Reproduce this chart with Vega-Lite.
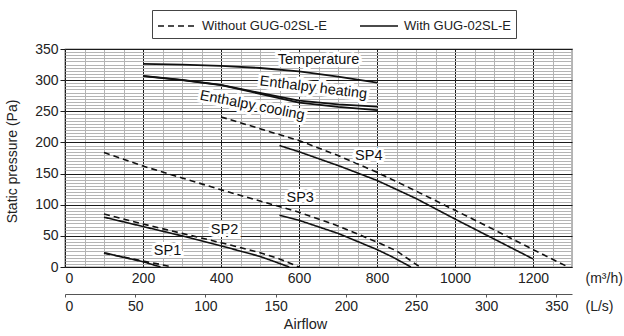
{
  "$schema": "https://vega.github.io/schema/vega-lite/v6.json",
  "width": 507,
  "height": 218,
  "autosize": {"type": "none"},
  "padding": {"left": 65, "top": 49, "right": 52, "bottom": 69},
  "background": "white",
  "config": {
    "font": "Liberation Sans",
    "view": {"stroke": "#1a1a1a", "strokeWidth": 1.2},
    "axis": {"labelFont": "Liberation Sans", "labelFontSize": 14, "labelColor": "#222", "titleFont": "Liberation Sans", "titleFontSize": 14, "titleFontWeight": "normal", "titleColor": "#222"}
  },
  "datasets": {
    "sp": [
      {"curve": "SP1", "type": "Without GUG-02SL-E", "q": 100, "pa": 22},
      {"curve": "SP1", "type": "Without GUG-02SL-E", "q": 150, "pa": 16},
      {"curve": "SP1", "type": "Without GUG-02SL-E", "q": 200, "pa": 9.5},
      {"curve": "SP1", "type": "Without GUG-02SL-E", "q": 250, "pa": 3.5},
      {"curve": "SP1", "type": "Without GUG-02SL-E", "q": 274, "pa": 0},
      {"curve": "SP1", "type": "With GUG-02SL-E", "q": 100, "pa": 23},
      {"curve": "SP1", "type": "With GUG-02SL-E", "q": 150, "pa": 15.5},
      {"curve": "SP1", "type": "With GUG-02SL-E", "q": 200, "pa": 8.5},
      {"curve": "SP1", "type": "With GUG-02SL-E", "q": 245, "pa": 0},
      {"curve": "SP2", "type": "Without GUG-02SL-E", "q": 100, "pa": 85},
      {"curve": "SP2", "type": "Without GUG-02SL-E", "q": 200, "pa": 69},
      {"curve": "SP2", "type": "Without GUG-02SL-E", "q": 300, "pa": 54},
      {"curve": "SP2", "type": "Without GUG-02SL-E", "q": 400, "pa": 39},
      {"curve": "SP2", "type": "Without GUG-02SL-E", "q": 500, "pa": 23},
      {"curve": "SP2", "type": "Without GUG-02SL-E", "q": 550, "pa": 13},
      {"curve": "SP2", "type": "Without GUG-02SL-E", "q": 600, "pa": 0},
      {"curve": "SP2", "type": "With GUG-02SL-E", "q": 100, "pa": 80},
      {"curve": "SP2", "type": "With GUG-02SL-E", "q": 200, "pa": 65},
      {"curve": "SP2", "type": "With GUG-02SL-E", "q": 300, "pa": 50},
      {"curve": "SP2", "type": "With GUG-02SL-E", "q": 400, "pa": 34},
      {"curve": "SP2", "type": "With GUG-02SL-E", "q": 500, "pa": 17},
      {"curve": "SP2", "type": "With GUG-02SL-E", "q": 540, "pa": 8},
      {"curve": "SP2", "type": "With GUG-02SL-E", "q": 575, "pa": 0},
      {"curve": "SP3", "type": "Without GUG-02SL-E", "q": 100, "pa": 184},
      {"curve": "SP3", "type": "Without GUG-02SL-E", "q": 200, "pa": 162},
      {"curve": "SP3", "type": "Without GUG-02SL-E", "q": 300, "pa": 143},
      {"curve": "SP3", "type": "Without GUG-02SL-E", "q": 400, "pa": 124},
      {"curve": "SP3", "type": "Without GUG-02SL-E", "q": 500, "pa": 106},
      {"curve": "SP3", "type": "Without GUG-02SL-E", "q": 600, "pa": 88},
      {"curve": "SP3", "type": "Without GUG-02SL-E", "q": 700, "pa": 66},
      {"curve": "SP3", "type": "Without GUG-02SL-E", "q": 800, "pa": 40},
      {"curve": "SP3", "type": "Without GUG-02SL-E", "q": 850, "pa": 26},
      {"curve": "SP3", "type": "Without GUG-02SL-E", "q": 910, "pa": 0},
      {"curve": "SP3", "type": "With GUG-02SL-E", "q": 550, "pa": 83},
      {"curve": "SP3", "type": "With GUG-02SL-E", "q": 600, "pa": 75},
      {"curve": "SP3", "type": "With GUG-02SL-E", "q": 700, "pa": 54},
      {"curve": "SP3", "type": "With GUG-02SL-E", "q": 800, "pa": 28},
      {"curve": "SP3", "type": "With GUG-02SL-E", "q": 840, "pa": 16},
      {"curve": "SP3", "type": "With GUG-02SL-E", "q": 887, "pa": 0},
      {"curve": "SP4", "type": "Without GUG-02SL-E", "q": 400, "pa": 241},
      {"curve": "SP4", "type": "Without GUG-02SL-E", "q": 500, "pa": 222},
      {"curve": "SP4", "type": "Without GUG-02SL-E", "q": 600, "pa": 203},
      {"curve": "SP4", "type": "Without GUG-02SL-E", "q": 700, "pa": 179},
      {"curve": "SP4", "type": "Without GUG-02SL-E", "q": 800, "pa": 152},
      {"curve": "SP4", "type": "Without GUG-02SL-E", "q": 900, "pa": 122},
      {"curve": "SP4", "type": "Without GUG-02SL-E", "q": 1000, "pa": 91},
      {"curve": "SP4", "type": "Without GUG-02SL-E", "q": 1100, "pa": 60},
      {"curve": "SP4", "type": "Without GUG-02SL-E", "q": 1200, "pa": 28},
      {"curve": "SP4", "type": "Without GUG-02SL-E", "q": 1290, "pa": 0},
      {"curve": "SP4", "type": "With GUG-02SL-E", "q": 550, "pa": 195},
      {"curve": "SP4", "type": "With GUG-02SL-E", "q": 600, "pa": 185},
      {"curve": "SP4", "type": "With GUG-02SL-E", "q": 700, "pa": 163},
      {"curve": "SP4", "type": "With GUG-02SL-E", "q": 800, "pa": 139},
      {"curve": "SP4", "type": "With GUG-02SL-E", "q": 900, "pa": 110},
      {"curve": "SP4", "type": "With GUG-02SL-E", "q": 1000, "pa": 77},
      {"curve": "SP4", "type": "With GUG-02SL-E", "q": 1100, "pa": 45},
      {"curve": "SP4", "type": "With GUG-02SL-E", "q": 1200, "pa": 13}
    ],
    "eff": [
      {"curve": "Temperature", "q": 200, "pct": 85.2},
      {"curve": "Temperature", "q": 300, "pct": 85.0},
      {"curve": "Temperature", "q": 400, "pct": 84.6},
      {"curve": "Temperature", "q": 500, "pct": 83.9},
      {"curve": "Temperature", "q": 600, "pct": 82.8},
      {"curve": "Temperature", "q": 700, "pct": 81.1},
      {"curve": "Temperature", "q": 800, "pct": 79.2},
      {"curve": "Enthalpy heating", "q": 200, "pct": 81.4},
      {"curve": "Enthalpy heating", "q": 300, "pct": 80.1},
      {"curve": "Enthalpy heating", "q": 400, "pct": 78.5},
      {"curve": "Enthalpy heating", "q": 500, "pct": 75.9},
      {"curve": "Enthalpy heating", "q": 600, "pct": 73.4},
      {"curve": "Enthalpy heating", "q": 700, "pct": 72.2},
      {"curve": "Enthalpy heating", "q": 800, "pct": 71.5},
      {"curve": "Enthalpy cooling", "q": 200, "pct": 81.3},
      {"curve": "Enthalpy cooling", "q": 300, "pct": 80.0},
      {"curve": "Enthalpy cooling", "q": 400, "pct": 78.4},
      {"curve": "Enthalpy cooling", "q": 500, "pct": 75.6},
      {"curve": "Enthalpy cooling", "q": 600, "pct": 72.8},
      {"curve": "Enthalpy cooling", "q": 700, "pct": 71.4},
      {"curve": "Enthalpy cooling", "q": 800, "pct": 70.4}
    ],
    "splabels": [
      {"label": "SP1", "q": 263, "pa": 25},
      {"label": "SP2", "q": 409, "pa": 60},
      {"label": "SP3", "q": 603, "pa": 111},
      {"label": "SP4", "q": 779, "pa": 179}
    ],
    "efflabels": [
      {"label": "Temperature", "q": 650, "pct": 86.5},
      {"label": "Enthalpy heating", "q": 637, "pct": 77.5},
      {"label": "Enthalpy cooling", "q": 480, "pct": 71.8}
    ],
    "lps": [
      {"ls": 0},
      {"ls": 350}
    ]
  },
  "title": {"text": "Airflow", "orient": "bottom", "anchor": "middle", "dx": -13, "offset": 5, "fontSize": 14.5, "fontWeight": "normal", "color": "#222", "font": "Liberation Sans"},
  "layer": [
    {
      "layer": [
        {
          "data": {"name": "sp"},
          "mark": {"type": "point", "opacity": 0},
          "encoding": {
            "x": {"field": "q", "type": "quantitative", "scale": {"domain": [0, 1300], "nice": false, "zero": false},
              "axis": {"orient": "bottom", "values": [0,50,100,150,200,250,300,350,400,450,500,550,600,650,700,750,800,850,900,950,1000,1050,1100,1150,1200,1250,1300], "grid": true, "gridColor": "#b4b4b4", "gridWidth": 1, "labels": false, "ticks": false, "domain": false, "title": null}},
            "y": {"field": "pa", "type": "quantitative", "scale": {"domain": [0, 350], "nice": false, "zero": false},
              "axis": {"orient": "left", "values": [0,5,10,15,20,25,30,35,40,45,50,55,60,65,70,75,80,85,90,95,100,105,110,115,120,125,130,135,140,145,150,155,160,165,170,175,180,185,190,195,200,205,210,215,220,225,230,235,240,245,250,255,260,265,270,275,280,285,290,295,300,305,310,315,320,325,330,335,340,345,350], "grid": true, "gridColor": "#b4b4b4", "gridWidth": 1, "labels": false, "ticks": false, "domain": false, "title": null}}
          }
        },
        {
          "data": {"name": "sp"},
          "mark": {"type": "line", "color": "#111", "strokeWidth": 1.6},
          "encoding": {
            "x": {"field": "q", "type": "quantitative", "scale": {"domain": [0, 1300], "nice": false, "zero": false},
              "axis": {"orient": "bottom", "values": [0,200,400,600,800,1000,1200], "format": "d", "grid": true, "gridColor": "#1a1a1a", "gridWidth": 1, "ticks": false, "domain": false, "labelPadding": 4, "title": "(m³/h)", "titleX": 520, "titleY": 11, "titleAlign": "left", "titleBaseline": "middle", "titleAngle": 0}},
            "y": {"field": "pa", "type": "quantitative", "scale": {"domain": [0, 350], "nice": false, "zero": false},
              "axis": {"orient": "left", "values": [0,50,100,150,200,250,300,350], "grid": true, "gridColor": "#1a1a1a", "gridWidth": 1, "ticks": true, "tickSize": 5, "tickColor": "#1a1a1a", "domain": false, "labelPadding": 2, "title": "Static pressure (Pa)", "titleX": -53, "titleY": 112, "titleAngle": -90, "titleAlign": "center", "titleBaseline": "middle"}},
            "strokeDash": {"field": "type", "type": "nominal",
              "scale": {"domain": ["Without GUG-02SL-E", "With GUG-02SL-E"], "range": [[6, 4], [1, 0]]},
              "legend": {"orient": "none", "legendX": 87, "legendY": -39, "direction": "horizontal", "title": null, "symbolType": "M-1.9,0H1.9", "symbolSize": 400, "symbolOffset": 9, "symbolStrokeWidth": 1.6, "symbolStrokeColor": "#111", "labelFontSize": 13, "labelFont": "Liberation Sans", "labelColor": "#222", "strokeColor": "#444", "padding": 5, "columnPadding": 29, "labelOffset": 14}},
            "detail": {"field": "curve"}
          }
        },
        {
          "data": {"name": "splabels"},
          "mark": {"type": "text", "fontSize": 14.5, "font": "Liberation Sans", "stroke": "white", "strokeWidth": 6, "fill": "white", "align": "center", "baseline": "middle"},
          "encoding": {
            "x": {"field": "q", "type": "quantitative", "axis": null},
            "y": {"field": "pa", "type": "quantitative", "axis": null},
            "text": {"field": "label"}
          }
        },
        {
          "data": {"name": "splabels"},
          "mark": {"type": "text", "fontSize": 14.5, "font": "Liberation Sans", "fill": "#111", "align": "center", "baseline": "middle"},
          "encoding": {
            "x": {"field": "q", "type": "quantitative", "axis": null},
            "y": {"field": "pa", "type": "quantitative", "axis": null},
            "text": {"field": "label"}
          }
        }
      ],
      "resolve": {"axis": {"x": "independent", "y": "independent"}}
    },
    {
      "layer": [
        {
          "data": {"name": "eff"},
          "mark": {"type": "line", "color": "#111", "strokeWidth": 1.8},
          "encoding": {
            "x": {"field": "q", "type": "quantitative", "scale": {"domain": [0, 1300], "nice": false, "zero": false}, "axis": null},
            "y": {"field": "pct", "type": "quantitative", "scale": {"domain": [20, 90], "nice": false, "zero": false},
              "axis": {"orient": "right", "values": [60, 70, 80, 90], "grid": false, "domain": false, "ticks": true, "tickSize": 6, "tickColor": "#1a1a1a", "labelPadding": 2, "title": "Exchange efficiency (%)", "titleX": 40, "titleY": 118, "titleAngle": -90, "titleAlign": "center", "titleBaseline": "middle"}},
            "detail": {"field": "curve"}
          }
        },
        {
          "data": {"name": "efflabels"},
          "transform": [{"filter": "datum.label === 'Temperature'"}],
          "mark": {"type": "text", "fontSize": 14.5, "font": "Liberation Sans", "stroke": "white", "strokeWidth": 6, "fill": "white", "align": "center", "baseline": "middle", "angle": 0},
          "encoding": {"x": {"field": "q", "type": "quantitative", "axis": null}, "y": {"field": "pct", "type": "quantitative", "axis": null}, "text": {"field": "label"}}
        },
        {
          "data": {"name": "efflabels"},
          "transform": [{"filter": "datum.label === 'Enthalpy heating'"}],
          "mark": {"type": "text", "fontSize": 14.5, "font": "Liberation Sans", "stroke": "white", "strokeWidth": 6, "fill": "white", "align": "center", "baseline": "middle", "angle": 7},
          "encoding": {"x": {"field": "q", "type": "quantitative", "axis": null}, "y": {"field": "pct", "type": "quantitative", "axis": null}, "text": {"field": "label"}}
        },
        {
          "data": {"name": "efflabels"},
          "transform": [{"filter": "datum.label === 'Enthalpy cooling'"}],
          "mark": {"type": "text", "fontSize": 14.5, "font": "Liberation Sans", "stroke": "white", "strokeWidth": 6, "fill": "white", "align": "center", "baseline": "middle", "angle": 11},
          "encoding": {"x": {"field": "q", "type": "quantitative", "axis": null}, "y": {"field": "pct", "type": "quantitative", "axis": null}, "text": {"field": "label"}}
        },
        {
          "data": {"name": "efflabels"},
          "transform": [{"filter": "datum.label === 'Temperature'"}],
          "mark": {"type": "text", "fontSize": 14.5, "font": "Liberation Sans", "fill": "#111", "align": "center", "baseline": "middle", "angle": 0},
          "encoding": {"x": {"field": "q", "type": "quantitative", "axis": null}, "y": {"field": "pct", "type": "quantitative", "axis": null}, "text": {"field": "label"}}
        },
        {
          "data": {"name": "efflabels"},
          "transform": [{"filter": "datum.label === 'Enthalpy heating'"}],
          "mark": {"type": "text", "fontSize": 14.5, "font": "Liberation Sans", "fill": "#111", "align": "center", "baseline": "middle", "angle": 7},
          "encoding": {"x": {"field": "q", "type": "quantitative", "axis": null}, "y": {"field": "pct", "type": "quantitative", "axis": null}, "text": {"field": "label"}}
        },
        {
          "data": {"name": "efflabels"},
          "transform": [{"filter": "datum.label === 'Enthalpy cooling'"}],
          "mark": {"type": "text", "fontSize": 14.5, "font": "Liberation Sans", "fill": "#111", "align": "center", "baseline": "middle", "angle": 11},
          "encoding": {"x": {"field": "q", "type": "quantitative", "axis": null}, "y": {"field": "pct", "type": "quantitative", "axis": null}, "text": {"field": "label"}}
        }
      ]
    },
    {
      "data": {"name": "lps"},
      "mark": {"type": "point", "opacity": 0},
      "encoding": {
        "x": {"field": "ls", "type": "quantitative", "scale": {"domain": [0, 361.11], "nice": false, "zero": false},
          "axis": {"orient": "bottom", "offset": 27, "values": [0, 50, 100, 150, 200, 250, 300, 350], "grid": false, "domain": true, "domainColor": "#555", "domainWidth": 1.2, "ticks": true, "tickSize": 3, "tickColor": "#555", "labelPadding": 2, "title": "(L/s)", "titleX": 520, "titleY": 12, "titleAlign": "left", "titleBaseline": "middle", "titleAngle": 0}}
      }
    }
  ],
  "resolve": {"scale": {"x": "independent", "y": "independent"}}
}
